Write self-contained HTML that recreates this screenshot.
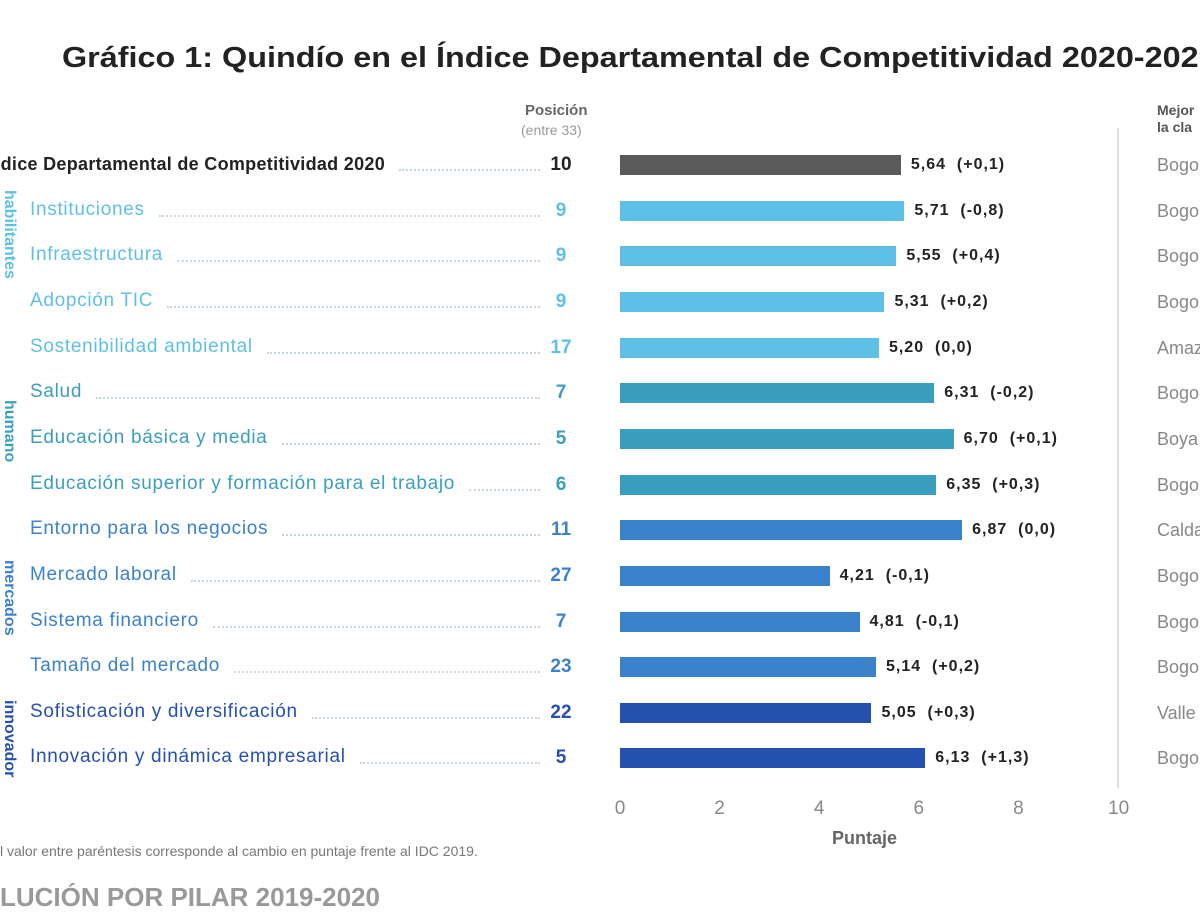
<!DOCTYPE html>
<html><head><meta charset="utf-8"><style>
body{margin:0;width:1200px;height:900px;background:#fff;overflow:hidden;font-family:"Liberation Sans",sans-serif;position:relative}
.a{position:absolute;white-space:nowrap}
.lab{position:absolute;left:30px;font-size:19px;line-height:20px;letter-spacing:0.7px;white-space:nowrap}
.dots{position:absolute;height:0;border-top:2px dotted #c9d6e0}
.pos{position:absolute;font-size:19px;width:40px;text-align:center;font-weight:bold}
.bar{position:absolute;left:620px;height:20px}
.val{position:absolute;font-size:16px;font-weight:bold;color:#222;letter-spacing:1px;white-space:nowrap}
.dep{position:absolute;left:1157px;font-size:18px;color:#888}
.side{position:absolute;left:-4px;font-size:16px;font-weight:bold;transform-origin:left top;transform:rotate(90deg);white-space:nowrap}
</style></head><body>
<div class="a" id="title" style="left:62px;top:42px;font-size:29px;font-weight:bold;color:#222;transform-origin:left top">Gráfico 1: Quindío en el Índice Departamental de Competitividad 2020-2020</div>
<div class="a" style="left:525px;top:102px;font-size:15px;font-weight:bold;color:#666">Posición</div>
<div class="a" style="left:521px;top:122px;font-size:14px;color:#999">(entre 33)</div>
<div class="a" style="left:1157px;top:102px;font-size:14px;font-weight:bold;color:#555;line-height:17px">Mejor<br>la cla</div>
<div class="a" style="left:1117px;top:128px;width:2px;height:660px;background:#ddd"></div>
<div id="rows"></div>
<div class="side" style="top:190px;left:18px;color:#5ec0e6">habilitantes</div>
<div class="side" style="top:400px;left:18px;color:#3aa0c0">humano</div>
<div class="side" style="top:560px;left:18px;color:#3b82cc">mercados</div>
<div class="side" style="top:700px;left:18px;color:#2650b0">innovador</div>
<div class="a" style="left:0;top:843px;font-size:14px;color:#777">l valor entre paréntesis corresponde al cambio en puntaje frente al IDC 2019.</div>
<div class="a" style="left:0;top:882px;font-size:26px;font-weight:bold;color:#999">LUCIÓN POR PILAR 2019-2020</div>
<div class="a" style="left:832px;top:828px;font-size:18px;font-weight:bold;color:#666">Puntaje</div>
<script>
const R=[["Índice Departamental de Competitividad 2020","10",5.64,"(+0,1)","#5a5a5a","#222","Bogo"],
["Instituciones","9",5.71,"(-0,8)","#5ec0e6","#5ec0e6","Bogo"],
["Infraestructura","9",5.55,"(+0,4)","#5ec0e6","#5ec0e6","Bogo"],
["Adopción TIC","9",5.31,"(+0,2)","#5ec0e6","#5ec0e6","Bogo"],
["Sostenibilidad ambiental","17",5.20,"(0,0)","#5ec0e6","#5ec0e6","Amaz"],
["Salud","7",6.31,"(-0,2)","#3a9fbf","#3a9fbf","Bogo"],
["Educación básica y media","5",6.70,"(+0,1)","#3a9fbf","#3a9fbf","Boya"],
["Educación superior y formación para el trabajo","6",6.35,"(+0,3)","#3a9fbf","#3a9fbf","Bogo"],
["Entorno para los negocios","11",6.87,"(0,0)","#3b82cc","#3b82cc","Calda"],
["Mercado laboral","27",4.21,"(-0,1)","#3b82cc","#3b82cc","Bogo"],
["Sistema financiero","7",4.81,"(-0,1)","#3b82cc","#3b82cc","Bogo"],
["Tamaño del mercado","23",5.14,"(+0,2)","#3b82cc","#3b82cc","Bogo"],
["Sofisticación y diversificación","22",5.05,"(+0,3)","#2650b0","#2650b0","Valle"],
["Innovación y dinámica empresarial","5",6.13,"(+1,3)","#2650b0","#2650b0","Bogo"]];
let h="";
R.forEach((r,i)=>{const y=165+i*45.65;
const first=i==0;
h+=`<div class="lab" style="top:${y-11}px;color:${r[5]};${first?'font-weight:bold;font-size:18px;letter-spacing:0.3px':''}" id="l${i}">${r[0]}</div>`;
h+=`<div class="pos" style="top:${y-11}px;left:541px;color:${r[5]}">${r[1]}</div>`;
const w=r[2]*49.8;
h+=`<div class="bar" style="top:${y-10}px;width:${w}px;background:${r[4]}"></div>`;
h+=`<div class="val" style="top:${y-9}px;left:${620+w+10}px">${r[2].toFixed(2).replace('.',',')}&nbsp; ${r[3]}</div>`;
h+=`<div class="dep" style="top:${y-10}px">${r[6]}</div>`;
});
for(let t=0;t<=10;t+=2)h+=`<div class="a" style="left:${620+t*49.8-10}px;top:798px;width:20px;text-align:center;font-size:19px;color:#888">${t}</div>`;
document.getElementById('rows').innerHTML=h;
const l0=document.getElementById('l0');l0.style.left=(385-l0.offsetWidth)+'px';
const ti=document.getElementById('title');ti.style.transform='scaleX('+(1155/ti.offsetWidth)+')';
R.forEach((r,i)=>{const el=document.getElementById('l'+i);const y=165+i*45.65;
const x=el.offsetLeft+el.offsetWidth+14;const d=document.createElement('div');d.className='dots';
d.style.left=x+'px';d.style.top=(y+4)+'px';d.style.width=(540-x)+'px';document.body.appendChild(d);});
</script>
</body></html>
